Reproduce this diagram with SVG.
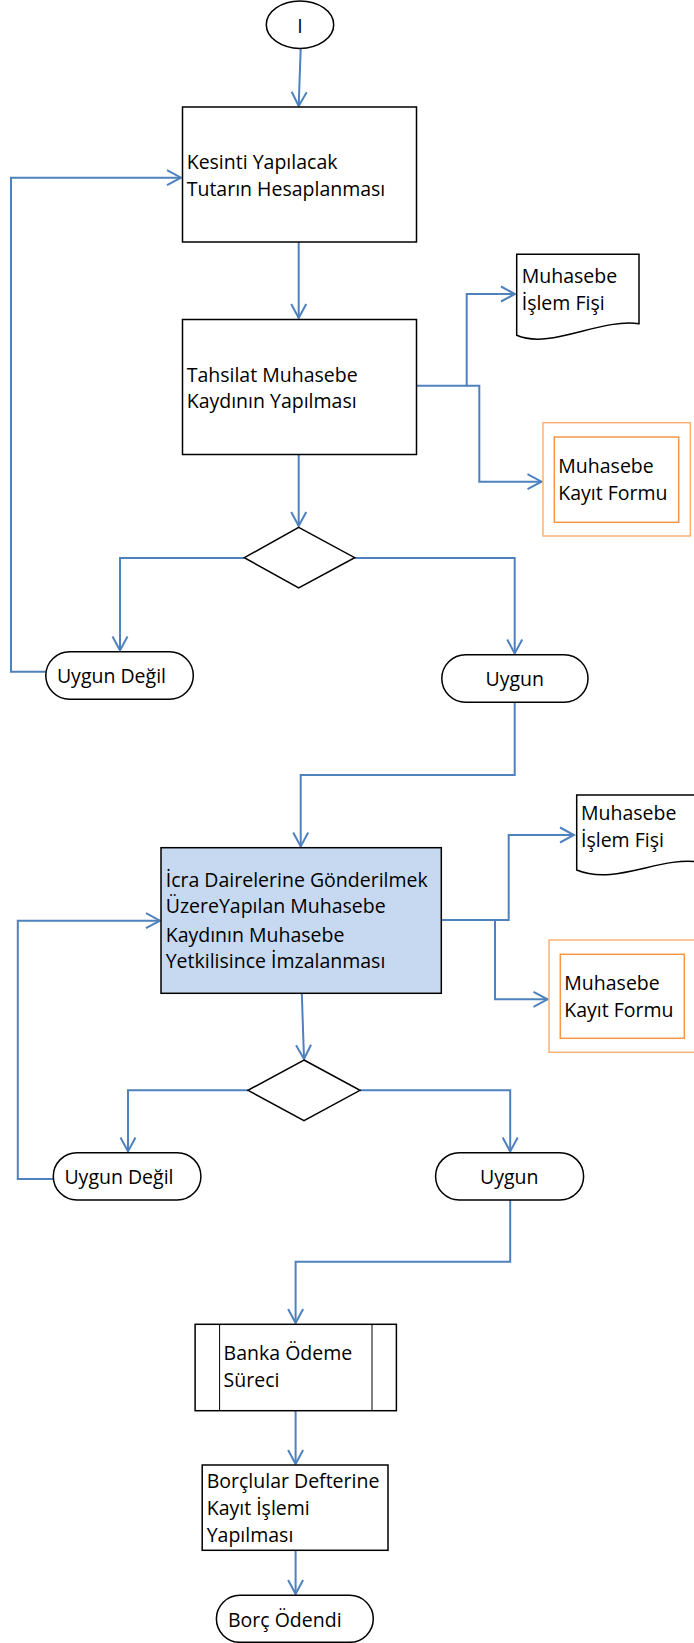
<svg xmlns="http://www.w3.org/2000/svg" width="694" height="1643" viewBox="0 0 694 1643">
<style>
  .t { font-family: "Open Sans", "Noto Sans", "DejaVu Sans", sans-serif; font-size: 19.5px; fill: #000; }
  .c { text-anchor: middle; }
  .box { fill: #fff; stroke: #000; stroke-width: 1.5; }
  .blue { fill: #C6D9F0; stroke: #000; stroke-width: 1.5; }
  .ln { fill: none; stroke: #000; stroke-width: 1; }
  .o1 { fill: #fff; stroke: #FAB27A; stroke-width: 1.5; }
  .o2 { fill: #fff; stroke: #F79646; stroke-width: 1.5; }
  .con { fill: none; stroke: #4F81BD; stroke-width: 2; marker-end: url(#arr); }
  .conn { fill: none; stroke: #4F81BD; stroke-width: 2; }
</style>
<defs>
  <marker id="arr" viewBox="-16 -9 18 18" refX="0" refY="0" markerWidth="18" markerHeight="18" markerUnits="userSpaceOnUse" orient="auto">
    <path d="M-14,-7.5 L0,0 L-14,7.5" fill="none" stroke="#4F81BD" stroke-width="2"/>
  </marker>
</defs>

<g id="connectors">
  <path class="con" d="M300.7,48.3 L298.7,106"/>
  <path class="con" d="M298.7,242 V318"/>
  <path class="con" d="M298.7,454.7 V526"/>
  <path class="con" d="M45.5,671.7 H11 V177.7 H181"/>
  <path class="con" d="M244.3,558 H120 V650.5"/>
  <path class="con" d="M354.7,558 H514.7 V653.5"/>
  <path class="con" d="M417,385.7 H466.7 V294 H515"/>
  <path class="con" d="M466.7,385.7 H479.3 V481.7 H541.5"/>
  <path class="con" d="M514.7,702.3 V775 H300.7 V846.5"/>
  <path class="con" d="M441.3,920 H508.7 V835 H574"/>
  <path class="con" d="M495,920 V999.3 H547.5"/>
  <path class="con" d="M53.3,1179 H17.8 V920.7 H160"/>
  <path class="con" d="M301.8,993.3 L304,1059"/>
  <path class="con" d="M248,1090.3 H128 V1151.5"/>
  <path class="con" d="M360,1090.3 H510.2 V1151.5"/>
  <path class="con" d="M510.2,1200 V1261.7 H295.6 V1323"/>
  <path class="con" d="M295.6,1410.7 V1464"/>
  <path class="con" d="M295.6,1550.3 V1594"/>
</g>

<g id="start">
  <ellipse class="box" cx="300" cy="24.7" rx="33.7" ry="23.7"/>
  <text class="t c" x="300" y="33">I</text>
</g>

<g id="kesinti">
  <rect class="box" x="182.5" y="107" width="234" height="135"/>
  <text class="t" x="186.7" y="169.3">Kesinti Yapılacak</text>
  <text class="t" x="186.7" y="196">Tutarın Hesaplanması</text>
</g>

<g id="tahsilat">
  <rect class="box" x="182.5" y="319.5" width="234" height="135"/>
  <text class="t" x="186.7" y="381.7">Tahsilat Muhasebe</text>
  <text class="t" x="186.7" y="407.7">Kaydının Yapılması</text>
</g>

<g id="fis1">
  <path class="box" d="M516.7,254.3 H639 V323.7 C600,318 550,350 516.7,335.3 Z"/>
  <text class="t" x="521.7" y="283.3">Muhasebe</text>
  <text class="t" x="521.7" y="310">İşlem Fişi</text>
</g>

<g id="form1">
  <rect class="o1" x="543" y="422.7" width="147.3" height="113.3"/>
  <rect class="o2" x="554.3" y="437" width="124.4" height="85.3"/>
  <text class="t" x="558.3" y="473.3">Muhasebe</text>
  <text class="t" x="558.3" y="500">Kayıt Formu</text>
</g>

<g id="karar1">
  <polygon class="box" points="298.7,527.3 354.7,557.7 298.7,588 244.3,557.7"/>
</g>

<g id="uygundegil1">
  <rect class="box" x="45.8" y="651.7" width="147.5" height="47.6" rx="23.8" ry="23.8"/>
  <text class="t" x="56.9" y="683.3">Uygun Değil</text>
</g>

<g id="uygun1">
  <rect class="box" x="441.8" y="654.7" width="146.2" height="47.6" rx="23.8" ry="23.8"/>
  <text class="t c" x="514.7" y="685.7">Uygun</text>
</g>

<g id="icra">
  <rect class="blue" x="161" y="847.7" width="280.3" height="145.6"/>
  <text class="t" x="165.7" y="886.7">İcra Dairelerine Gönderilmek</text>
  <text class="t" x="165.7" y="913.3">ÜzereYapılan Muhasebe</text>
  <text class="t" x="165.7" y="941.7">Kaydının Muhasebe</text>
  <text class="t" x="165.7" y="968.3">Yetkilisince İmzalanması</text>
</g>

<g id="fis2">
  <path class="box" d="M576.7,795 H699 V862 C660,856 615,886 576.7,870 Z"/>
  <text class="t" x="581" y="820">Muhasebe</text>
  <text class="t" x="581" y="846.7">İşlem Fişi</text>
</g>

<g id="form2">
  <rect class="o1" x="549" y="940" width="147" height="112.3"/>
  <rect class="o2" x="560.3" y="954.3" width="124" height="84"/>
  <text class="t" x="564.3" y="990">Muhasebe</text>
  <text class="t" x="564.3" y="1016.7">Kayıt Formu</text>
</g>

<g id="karar2">
  <polygon class="box" points="304,1060 360,1090.3 304,1120.7 248,1090.3"/>
</g>

<g id="uygundegil2">
  <rect class="box" x="53.3" y="1152.7" width="147.6" height="47.3" rx="23.6" ry="23.6"/>
  <text class="t" x="64.4" y="1184">Uygun Değil</text>
</g>

<g id="uygun2">
  <rect class="box" x="435.6" y="1152.7" width="148" height="47.3" rx="23.6" ry="23.6"/>
  <text class="t c" x="509.3" y="1184">Uygun</text>
</g>

<g id="banka">
  <rect class="box" x="195.1" y="1324.3" width="201.3" height="86.4"/>
  <line class="ln" x1="219.6" y1="1324.3" x2="219.6" y2="1410.7"/>
  <line class="ln" x1="372" y1="1324.3" x2="372" y2="1410.7"/>
  <text class="t" x="223.6" y="1360">Banka Ödeme</text>
  <text class="t" x="223.6" y="1387.3">Süreci</text>
</g>

<g id="borclular">
  <rect class="box" x="202.2" y="1465" width="185.8" height="85.3"/>
  <text class="t" x="206.7" y="1487.7">Borçlular Defterine</text>
  <text class="t" x="206.7" y="1515">Kayıt İşlemi</text>
  <text class="t" x="206.7" y="1541.7">Yapılması</text>
</g>

<g id="bitis">
  <rect class="box" x="216.4" y="1595.3" width="156.9" height="47" rx="23.5" ry="23.5"/>
  <text class="t" x="228" y="1626.7">Borç Ödendi</text>
</g>
</svg>
